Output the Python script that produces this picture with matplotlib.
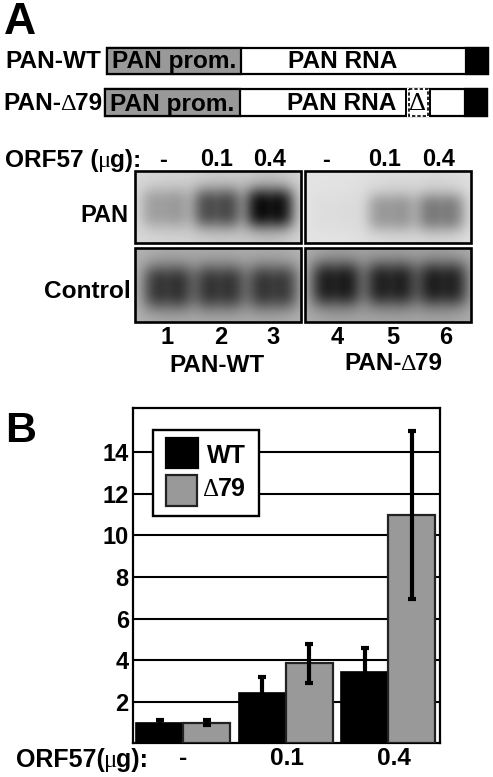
import numpy as np
import matplotlib
matplotlib.use("Agg")
import matplotlib.pyplot as plt
from matplotlib.patches import Rectangle

# ---- data ----
groups = ["-", "0.1", "0.4"]
wt_values = [1.0, 2.4, 3.45]
wt_err = [0.1, 0.8, 1.15]
d79_values = [1.0, 3.85, 11.0]
d79_err = [0.1, 0.95, 4.05]
y_ticks = [2, 4, 6, 8, 10, 12, 14]
dose_labels = ["-", "0.1", "0.4", "-", "0.1", "0.4"]
lane_labels = ["1", "2", "3", "4", "5", "6"]
pan_wt_band = [0.30, 0.68, 1.0]
pan_d79_band = [0.03, 0.36, 0.50]
ctrl_wt_band = [0.90, 0.88, 0.88]
ctrl_d79_band = [1.0, 0.95, 0.97]

W, H = 493, 777
BOLD = "Liberation Sans"
plt.rcParams["font.family"] = BOLD
fig = plt.figure(figsize=(W / 100, H / 100), dpi=100, facecolor="white")

# pixel-coordinate overlay
ov = fig.add_axes([0, 0, 1, 1], zorder=1)
ov.set_xlim(0, W); ov.set_ylim(H, 0); ov.axis("off"); ov.patch.set_alpha(0)


def T(x, y, s, size=17.6, ha="center", va="baseline", **kw):
    kw.setdefault("weight", "bold")
    return ov.text(x, y, s, fontsize=size, ha=ha, va=va, color="black", **kw)


def runs(x, y, parts, size=17.6):
    """Left-aligned mixed text: bold sans with thin symbol glyphs."""
    r = fig.canvas.get_renderer()
    for s, thin in parts:
        t = T(x, y, s, size=size, ha="left",
              **({"family": "Liberation Serif", "weight": "normal"} if thin else {}))
        x += t.get_window_extent(r).width - 1


def box(x0, y0, x1, y1, fc, ec="black", lw=1.6, **kw):
    ov.add_patch(Rectangle((x0, y0), x1 - x0, y1 - y0, fc=fc, ec=ec, lw=lw, **kw))


# ---- panel letters ----
T(4, 34, "A", size=32, ha="left")
T(5, 441.5, "B", size=31, ha="left")

# ---- constructs ----
PROM = "#999999"
box(106.5, 47.5, 488, 73.5, "white")
box(106.5, 47.5, 240.5, 73.5, PROM)
box(466, 47.5, 488, 73.5, "black")
T(5, 68, "PAN-WT", ha="left")
T(112, 68, "PAN prom.", ha="left")
T(343, 68, "PAN RNA")

box(105, 89, 487, 115.5, "white")
box(105, 89, 239.5, 115.5, PROM)
box(465, 89, 487, 115.5, "black")
box(406.5, 87.5, 429, 117, "white", ec="none", lw=0)
ov.plot([406, 406], [89, 115.5], color="black", lw=1.4)
ov.plot([429.5, 429.5], [89, 115.5], color="black", lw=1.4)
box(408.5, 89, 427.5, 115.5, "none", lw=1.2, ls=(0, (2, 1.2)))
T(418, 110.5, "\u0394", size=19, family="Liberation Serif", weight="normal")
runs(3, 110.5, [("PAN-", False), ("\u0394", True), ("79", False)])
T(110.5, 110.5, "PAN prom.", ha="left")
T(342, 110.5, "PAN RNA")

# ---- dose row ----
runs(5, 166.5, [("ORF57 (", False), ("\u03bc", True), ("g):", False)], size=17.6)
for x, s in zip([163, 217, 270, 326, 385, 439], dose_labels):
    T(x, 166.5, s, size=17)


# ---- blots ----
def blot(x0, y0, x1, y1, lanes, bands, yc, bg, dark, hx, hy):
    xs = np.arange(x0, x1) + 0.5
    ys = np.arange(y0, y1) + 0.5
    X, Y = np.meshgrid(xs, ys)
    signal = np.zeros_like(X)
    for cx, b in zip(lanes, bands):
        dx, dy = X - cx, Y - yc
        core = np.exp(-np.abs(dx / hx) ** 4 - np.abs(dy / hy) ** 3)
        halo = np.exp(-(dx / (hx + 6)) ** 2 - (dy / (hy + 17)) ** 2)
        dip = 1 - 0.08 * np.exp(-(dx / 7.0) ** 2)
        signal += b * (0.72 * core * dip + 0.28 * halo)
    img = bg - (bg - dark) * np.clip(signal, 0, 1)
    ov.imshow(img, extent=(x0, x1, y1, y0), cmap="gray", vmin=0, vmax=1,
              aspect="auto", interpolation="bilinear", zorder=1)
    ov.add_patch(Rectangle((x0, y0), x1 - x0, y1 - y0, fc="none", ec="black", lw=1.9, zorder=2))


LEFT = (135, 301)
RIGHT = (305, 471)
blot(LEFT[0], 171, LEFT[1], 243, [165, 217, 270], pan_wt_band, 208, 0.86, 0.03, 24, 20)
blot(RIGHT[0], 171, RIGHT[1], 243, [335, 391, 441], pan_d79_band, 212, 0.89, 0.06, 24, 19)
blot(LEFT[0], 248, LEFT[1], 322, [168, 220, 273], ctrl_wt_band, 287, 0.72, 0.14, 25, 22)
blot(RIGHT[0], 248, RIGHT[1], 322, [336, 391, 443], ctrl_d79_band, 284, 0.70, 0.10, 25, 22)
ov.set_xlim(0, W); ov.set_ylim(H, 0)

T(128, 221.5, "PAN", size=17, ha="right")
T(131, 298, "Control", size=17.6, ha="right")
for x, s in zip([167, 221, 273, 337, 393, 446], lane_labels):
    T(x, 344, s, size=17)
T(217, 372.5, "PAN-WT", size=17.5)
runs(344, 370, [("PAN-", False), ("\u0394", True), ("79", False)], size=17.5)

# ---- bar chart ----
AX_L, AX_R, AX_T, AX_B = 133, 440, 408.5, 743.3
ax = fig.add_axes([AX_L / W, 1 - AX_B / H, (AX_R - AX_L) / W, (AX_B - AX_T) / H], zorder=0)
step = 102.5
ax.set_xlim((AX_L - 183) / step, (AX_R - 183) / step)
ax.set_ylim(0, (AX_B - AX_T) / 20.78)
pos = np.arange(len(groups))
bw = 47 / step
ax.set_axisbelow(True)
ax.yaxis.grid(True, color="black", lw=1.5)
ax.bar(pos - bw / 2, wt_values, bw, color="black", ec="black", lw=1.2, zorder=3)
ax.bar(pos + bw / 2, d79_values, bw, color=PROM, ec="#222222", lw=1.6, zorder=3)
ax.errorbar(pos - bw / 2, wt_values, yerr=wt_err, fmt="none", ecolor="black",
            elinewidth=3, capsize=2.6, capthick=3, zorder=4)
ax.errorbar(pos + bw / 2, d79_values, yerr=d79_err, fmt="none", ecolor="black",
            elinewidth=3, capsize=2.6, capthick=3, zorder=4)
ax.set_yticks(y_ticks)
ax.set_yticklabels([str(v) for v in y_ticks], fontsize=17, weight="bold")
ax.set_xticks([0, 1.01, 2.06])
ax.set_xticklabels(groups, fontsize=17.6, weight="bold")
ax.tick_params(axis="both", length=0)
ax.tick_params(axis="y", pad=3)
ax.tick_params(axis="x", pad=3)
for s in ax.spines.values():
    s.set_linewidth(1.6)

runs(16, 767, [("ORF57(", False), ("\u03bc", True), ("g):", False)], size=18)

# ---- legend box ----
box(153, 429.5, 259, 516, "white", lw=1.7, zorder=5)
box(165.5, 437.5, 197.5, 468, "black", zorder=6)
box(165.5, 475, 197, 505.5, PROM, ec="#222222", zorder=6)
T(207, 463, "WT", size=18, ha="left", zorder=6)
r = fig.canvas.get_renderer()
d = ov.text(203, 496.5, "\u0394", fontsize=18, family="Liberation Serif", ha="left", va="baseline", zorder=6)
ov.text(202 + d.get_window_extent(r).width, 496.5, "79", fontsize=18, weight="bold",
        ha="left", va="baseline", zorder=6)

fig.savefig("out.png", dpi=100)
